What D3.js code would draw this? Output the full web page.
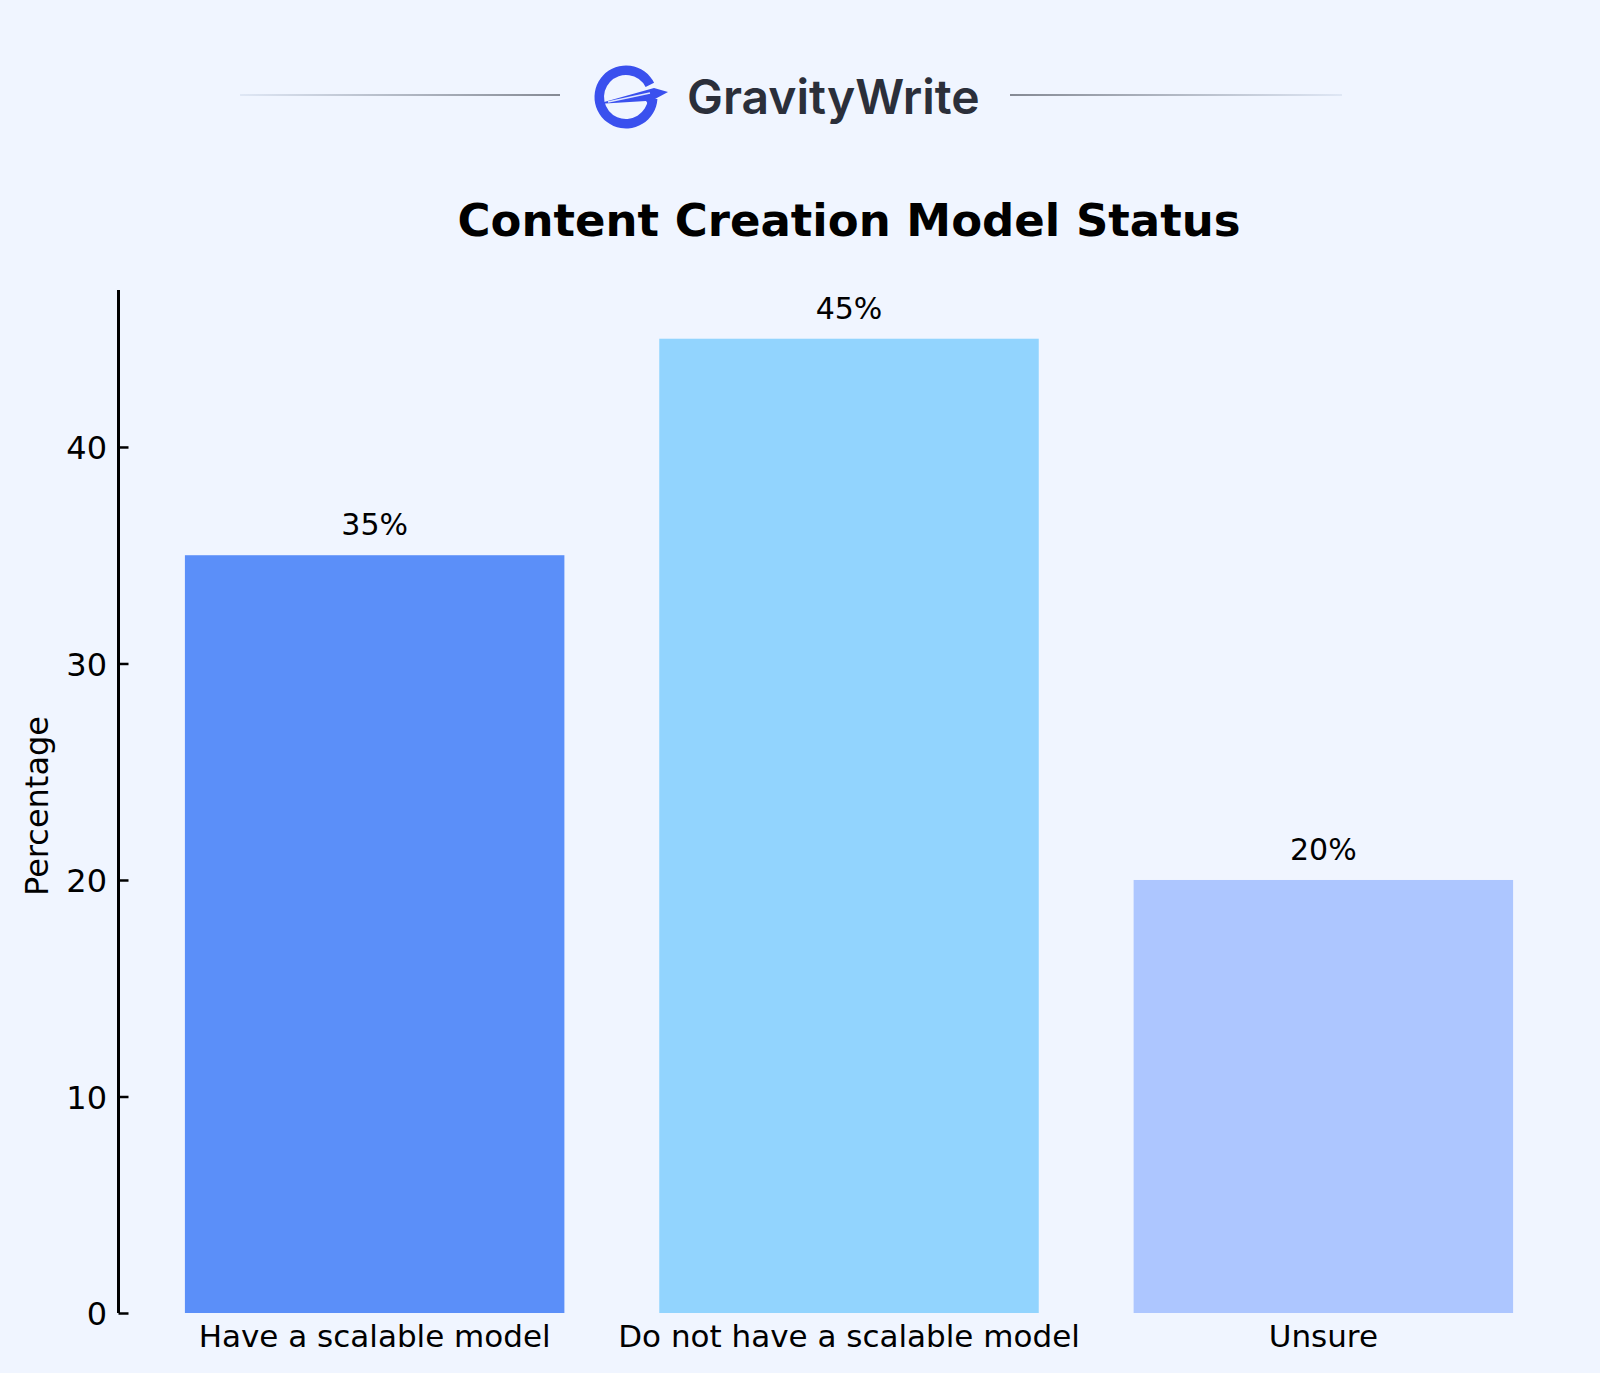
<!DOCTYPE html>
<html>
<head>
<meta charset="utf-8">
<script src="https://cdn.jsdelivr.net/npm/d3@7"></script>
<style>
  html, body { margin: 0; padding: 0; background: #f0f5ff; }
  svg { display: block; }
</style>
</head>
<body>
<svg class="bar-chart"></svg>
<script>
const categories = ['Have a scalable model', 'Do not have a scalable model', 'Unsure'];
const percentages = [35, 45, 20];
const barColors = ['#5b8ff9', '#92d4fe', '#adc6ff'];
const yTicks = [0, 10, 20, 30, 40];

const svgWidth = 1600, svgHeight = 1373;
const plot = { left: 118.5, right: 1579.5, top: 290, bottom: 1313 };
const font = 'DejaVu Sans, sans-serif';

const svg = d3.select('svg.bar-chart')
  .attr('width', svgWidth)
  .attr('height', svgHeight);

svg.append('rect')
  .attr('width', svgWidth)
  .attr('height', svgHeight)
  .attr('fill', '#f0f5ff');

// header: logo with fading rules either side
const defs = svg.append('defs');
const fadeL = defs.append('linearGradient').attr('id', 'fadeL');
fadeL.append('stop').attr('offset', '0%').attr('stop-color', '#dfe7f5');
fadeL.append('stop').attr('offset', '100%').attr('stop-color', '#858a94');
const fadeR = defs.append('linearGradient').attr('id', 'fadeR');
fadeR.append('stop').attr('offset', '0%').attr('stop-color', '#858a94');
fadeR.append('stop').attr('offset', '100%').attr('stop-color', '#dfe7f5');

svg.append('rect')
  .attr('x', 240).attr('y', 94).attr('width', 320).attr('height', 2)
  .attr('fill', 'url(#fadeL)');
svg.append('rect')
  .attr('x', 1010).attr('y', 94).attr('width', 332).attr('height', 2)
  .attr('fill', 'url(#fadeR)');

const logo = svg.append('g').attr('transform', 'translate(626, 97)');
// the G ring, open at the right where the wing sits
logo.append('path')
  .attr('d', d3.arc()
    .innerRadius(22)
    .outerRadius(31.5)
    .startAngle(Math.PI * 0.52)
    .endAngle(Math.PI * 2.35)())
  .attr('fill', '#3a50ee');
// wing crossing the G
logo.append('path')
  .attr('d', 'M-29,7 L28,-9 L42,-5 L29,2 L23,8 L20,4 Z')
  .attr('fill', '#3a50ee');
logo.append('path')
  .attr('d', 'M-18,5 L24,-4')
  .attr('stroke', '#dfe6ff')
  .attr('stroke-width', 1.5);

svg.append('text')
  .attr('x', 687)
  .attr('y', 114)
  .attr('font-family', 'Inter, sans-serif')
  .attr('font-weight', 600)
  .attr('font-size', 48)
  .attr('fill', '#2b2f3a')
  .text('GravityWrite');

// title
svg.append('text')
  .attr('x', (plot.left + plot.right) / 2)
  .attr('y', 236)
  .attr('text-anchor', 'middle')
  .attr('font-family', font)
  .attr('font-weight', 'bold')
  .attr('font-size', 45)
  .attr('fill', '#000')
  .text('Content Creation Model Status');

const x = d3.scaleBand()
  .domain(categories)
  .range([plot.left, plot.right])
  .paddingInner(0.2)
  .paddingOuter(0.14);

const y = d3.scaleLinear()
  .domain([0, 47.25])
  .range([plot.bottom, plot.top]);

const g = svg.append('g');

g.selectAll('rect.bar')
  .data(percentages)
  .join('rect')
  .attr('class', 'bar')
  .attr('x', (d, i) => x(categories[i]))
  .attr('y', d => y(d))
  .attr('width', x.bandwidth())
  .attr('height', d => y(0) - y(d))
  .attr('fill', (d, i) => barColors[i]);

g.selectAll('text.value')
  .data(percentages)
  .join('text')
  .attr('class', 'value')
  .attr('x', (d, i) => x(categories[i]) + x.bandwidth() / 2)
  .attr('y', d => y(d) - 20)
  .attr('text-anchor', 'middle')
  .attr('font-family', font)
  .attr('font-size', 30)
  .attr('fill', '#000')
  .text(d => d + '%');

// y axis, ticks pointing into the plot
const yAxis = g.append('g')
  .attr('transform', `translate(${plot.left}, 0)`)
  .call(d3.axisLeft(y).tickValues(yTicks).tickSize(-10).tickPadding(11.5));
yAxis.select('.domain')
  .attr('d', `M0,${plot.top}V${plot.bottom}`)
  .attr('stroke', '#000')
  .attr('stroke-width', 3);
yAxis.selectAll('.tick line').attr('stroke', '#000').attr('stroke-width', 2.5);
yAxis.selectAll('.tick text')
  .attr('font-family', font)
  .attr('font-size', 32)
  .attr('fill', '#000')
  .attr('dy', '0.36em');

// x axis: labels only
const xAxis = g.append('g')
  .attr('transform', `translate(0, ${plot.bottom})`)
  .call(d3.axisBottom(x).tickSize(0).tickPadding(12));
xAxis.select('.domain').remove();
xAxis.selectAll('.tick text')
  .attr('font-family', font)
  .attr('font-size', 31)
  .attr('fill', '#000');

svg.append('text')
  .attr('transform', `translate(48, 806) rotate(-90)`)
  .attr('text-anchor', 'middle')
  .attr('font-family', font)
  .attr('font-size', 32)
  .attr('fill', '#000')
  .text('Percentage');
</script>
</body>
</html>
